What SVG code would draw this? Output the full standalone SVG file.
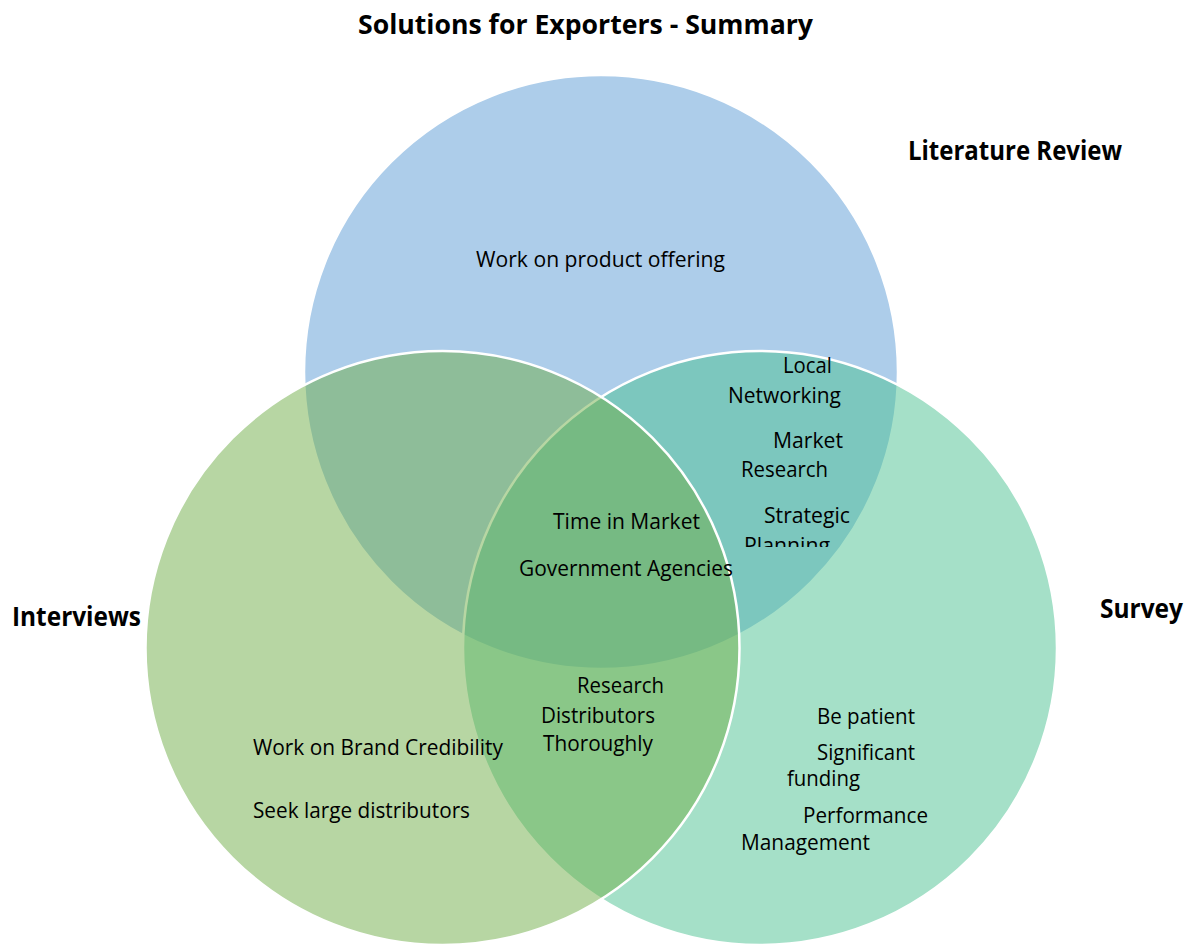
<svg xmlns="http://www.w3.org/2000/svg" width="1194" height="949" viewBox="0 0 1194 949">
  <style>
    .circ { stroke: #ffffff; stroke-width: 2.5; fill-opacity: 0.5; }
    .t { font-family: "Open Sans", "Liberation Sans", sans-serif; font-size: 21px; fill: #000000; }
    .h { font-family: "Open Sans", "Liberation Sans", sans-serif; font-size: 26px; font-weight: bold; fill: #000000; }
  </style>
  <defs>
    <clipPath id="clipPlan">
      <rect x="700" y="530" width="200" height="17"/>
    </clipPath>
  </defs>
  <rect x="0" y="0" width="1194" height="949" fill="#ffffff"/>

  <text class="h" x="358" y="34" textLength="455" lengthAdjust="spacingAndGlyphs">Solutions for Exporters - Summary</text>

  <g id="literature-review">
    <circle class="circ" cx="601" cy="372" r="297" fill="#5B9BD5"/>
  </g>
  <g id="survey">
    <circle class="circ" cx="760" cy="648" r="297" fill="#4BC191"/>
  </g>
  <g id="interviews">
    <circle class="circ" cx="442.5" cy="648" r="297" fill="#70AD47"/>
  </g>

  <g id="labels">
    <text class="h" x="908" y="160" textLength="214" lengthAdjust="spacingAndGlyphs">Literature Review</text>
    <text class="h" x="12" y="626" textLength="129" lengthAdjust="spacingAndGlyphs">Interviews</text>
    <text class="h" x="1100" y="618" textLength="83" lengthAdjust="spacingAndGlyphs">Survey</text>
  </g>

  <g id="top-only">
    <text class="t" x="476" y="267" textLength="249" lengthAdjust="spacingAndGlyphs">Work on product offering</text>
  </g>
  <g id="top-right">
    <text class="t" x="783" y="373" textLength="49" lengthAdjust="spacingAndGlyphs">Local</text>
    <text class="t" x="728" y="403" textLength="113" lengthAdjust="spacingAndGlyphs">Networking</text>
    <text class="t" x="773" y="448" textLength="70" lengthAdjust="spacingAndGlyphs">Market</text>
    <text class="t" x="741" y="477" textLength="87" lengthAdjust="spacingAndGlyphs">Research</text>
    <text class="t" x="764" y="523" textLength="86" lengthAdjust="spacingAndGlyphs">Strategic</text>
    <text class="t" x="744" y="553" textLength="86" lengthAdjust="spacingAndGlyphs" clip-path="url(#clipPlan)">Planning</text>
  </g>
  <g id="center">
    <text class="t" x="553" y="529" textLength="147" lengthAdjust="spacingAndGlyphs">Time in Market</text>
    <text class="t" x="519" y="576" textLength="214" lengthAdjust="spacingAndGlyphs">Government Agencies</text>
  </g>
  <g id="left-right">
    <text class="t" x="577" y="693" textLength="87" lengthAdjust="spacingAndGlyphs">Research</text>
    <text class="t" x="541" y="723" textLength="114" lengthAdjust="spacingAndGlyphs">Distributors</text>
    <text class="t" x="543" y="751" textLength="110" lengthAdjust="spacingAndGlyphs">Thoroughly</text>
  </g>
  <g id="left-only">
    <text class="t" x="253" y="755" textLength="250" lengthAdjust="spacingAndGlyphs">Work on Brand Credibility</text>
    <text class="t" x="253" y="818" textLength="217" lengthAdjust="spacingAndGlyphs">Seek large distributors</text>
  </g>
  <g id="right-only">
    <text class="t" x="817" y="724" textLength="98" lengthAdjust="spacingAndGlyphs">Be patient</text>
    <text class="t" x="817" y="760" textLength="98" lengthAdjust="spacingAndGlyphs">Significant</text>
    <text class="t" x="787" y="786" textLength="73" lengthAdjust="spacingAndGlyphs">funding</text>
    <text class="t" x="803" y="823" textLength="125" lengthAdjust="spacingAndGlyphs">Performance</text>
    <text class="t" x="741" y="850" textLength="129" lengthAdjust="spacingAndGlyphs">Management</text>
  </g>
  <g id="connectors"></g>
</svg>
